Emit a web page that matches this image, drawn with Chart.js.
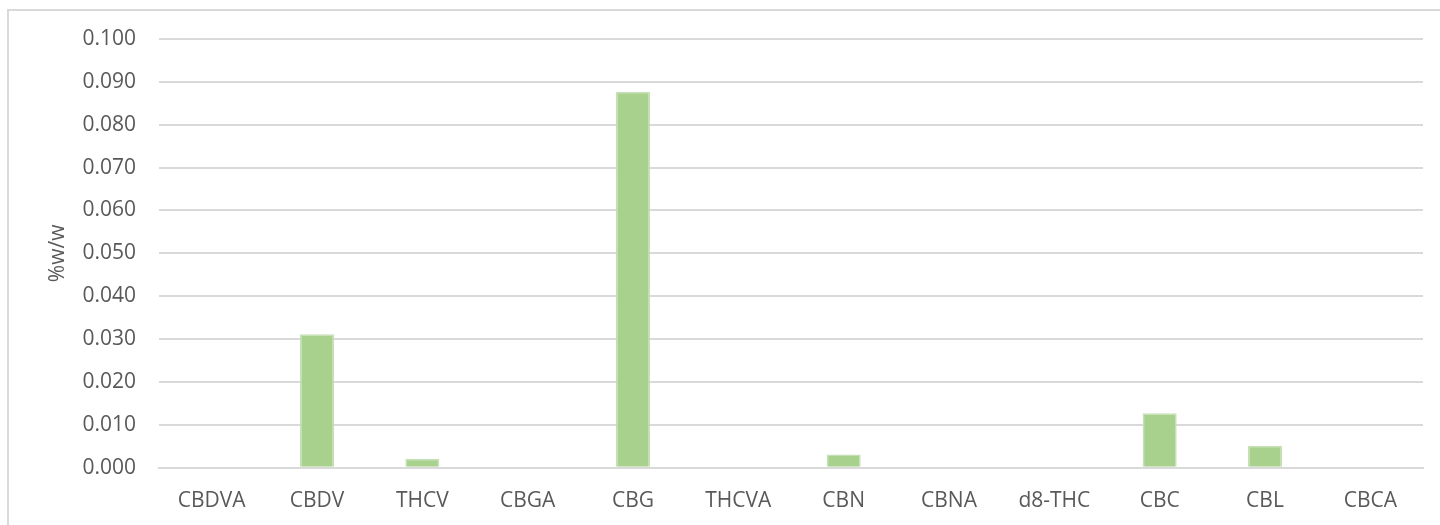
<!DOCTYPE html>
<html>
<head>
<meta charset="utf-8">
<script src="https://cdn.jsdelivr.net/npm/chart.js@4/dist/chart.umd.min.js"></script>
<style>
  html, body { margin: 0; padding: 0; background: #fff; overflow: hidden; }
  #wrap { position: relative; width: 1440px; height: 525px; }
  #frame { position: absolute; left: 7px; top: 9px; width: 1500px; height: 600px;
           border: 2px solid #d9d9d9; box-sizing: border-box; pointer-events: none; }
  canvas { position: absolute; left: 0; top: 0; }
</style>
</head>
<body>
<div id="wrap">
  <canvas id="chart" width="1440" height="525"></canvas>
  <div id="frame"></div>
</div>
<script>
// compounds on the x axis
var compounds = ["CBDVA", "CBDV", "THCV", "CBGA", "CBG", "THCVA", "CBN", "CBNA", "d8-THC", "CBC", "CBL", "CBCA"];
// %w/w
var amounts = [0, 0.0311, 0.0021, 0, 0.0877, 0, 0.0031, 0, 0, 0.0127, 0.0051, 0];
var yMin = 0;
var yMax = 0.1;
var yStep = 0.01;

var textColor = "#595959";
var gridColor = "#d9d9d9";

var ctx = document.getElementById("chart");
var myChart = new Chart(ctx, {
  type: "bar",
  data: {
    labels: compounds,
    datasets: [{
      label: "%w/w",
      data: amounts,
      backgroundColor: "#A9D18E",
      borderColor: "#C5E0B4",
      borderWidth: 1.5,
      barPercentage: 0.323,
      categoryPercentage: 1
    }]
  },
  options: {
    responsive: false,
    animation: false,
    layout: { padding: { left: 45, right: 17, top: 39, bottom: 0 } },
    plugins: { legend: { display: false }, tooltip: { enabled: false } },
    scales: {
      x: {
        grid: { display: false, drawTicks: false },
        border: { display: true, color: gridColor, width: 2 },
        ticks: { color: textColor, padding: 21, font: { family: "Open Sans", size: 21 } },
        afterFit: function(axis) { axis.height = 525 - 467.7; }
      },
      y: {
        min: yMin,
        max: yMax,
        grid: { color: gridColor, lineWidth: 2, drawTicks: false },
        border: { display: false },
        ticks: {
          stepSize: yStep,
          color: textColor,
          padding: 23,
          font: { family: "Open Sans", size: 21 },
          callback: function(v) { return Number(v).toFixed(3); }
        },
        title: {
          display: true,
          text: "%w/w",
          color: textColor,
          padding: 0,
          font: { family: "Open Sans", size: 21 }
        },
        afterFit: function(axis) { axis.width = 159 - 45; }
      }
    }
  }
});
</script>
</body>
</html>
